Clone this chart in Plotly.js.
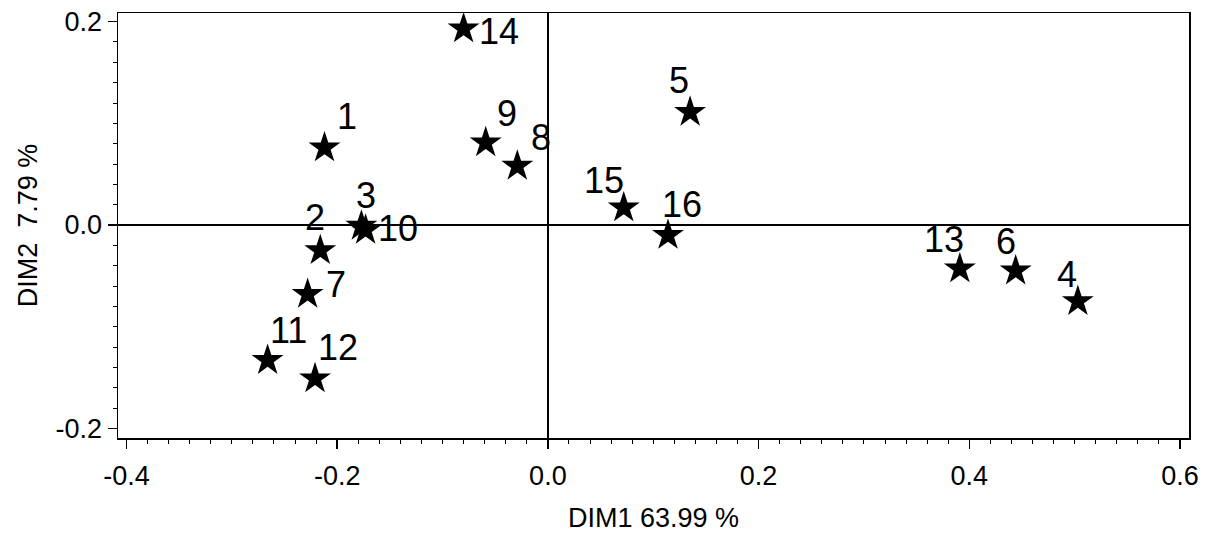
<!DOCTYPE html>
<html>
<head>
<meta charset="utf-8">
<script src="https://cdn.plot.ly/plotly-3.0.1.min.js"></script>
<style>
  html, body { margin: 0; padding: 0; background: #ffffff; }
  #chart { width: 1208px; height: 540px; }
</style>
</head>
<body>
<div id="chart"></div>
<script>
// ---- Data ----
const pointIds = ["1","2","3","4","5","6","7","8","9","10","11","12","13","14","15","16"];
const dim1 = [-0.212, -0.216, -0.177, 0.503, 0.135, 0.444, -0.228, -0.029, -0.059, -0.173, -0.266, -0.221, 0.391, -0.080, 0.072, 0.114];
const dim2 = [0.076, -0.025, -0.001, -0.075, 0.111, -0.045, -0.068, 0.058, 0.081, -0.005, -0.133, -0.151, -0.043, 0.193, 0.017, -0.010];

const xTickVals = [-0.4, -0.2, 0.0, 0.2, 0.4, 0.6];
const xTickText = ["-0.4", "-0.2", "0.0", "0.2", "0.4", "0.6"];
const yTickVals = [-0.2, 0.0, 0.2];
const yTickText = ["-0.2", "0.0", "0.2"];

const xTitle = "DIM1 63.99 %";
const yTitle = "DIM2  7.79 %";

// ---- Label placement (style only: pixel offsets of each id label from its star) ----
const labelOffsets = {
  "1": [22, -31], "2": [-5, -33], "3": [5, -31], "4": [-11, -27],
  "5": [-11, -32], "6": [-10, -29], "7": [28, -10], "8": [24, -29],
  "9": [21, -29], "10": [32, -2], "11": [21, -30], "12": [23, -31],
  "13": [-16, -29], "14": [35, 3], "15": [-20, -27], "16": [14, -31]
};

const fontFamily = "Liberation Sans, Arial, Helvetica, sans-serif";

const trace = {
  type: "scatter",
  mode: "markers",
  x: dim1,
  y: dim2,
  text: pointIds,
  marker: { symbol: "star", size: 24, color: "#000000", line: { width: 0 } },
  hoverinfo: "text+x+y",
  showlegend: false,
  cliponaxis: false
};

const annotations = pointIds.map((id, i) => ({
  x: dim1[i],
  y: dim2[i],
  xref: "x",
  yref: "y",
  text: id,
  showarrow: true,
  arrowcolor: "rgba(0,0,0,0)",
  arrowwidth: 0.1,
  ax: labelOffsets[id][0],
  ay: labelOffsets[id][1],
  font: { family: fontFamily, size: 36, color: "#000000" }
}));

const axisCommon = {
  showgrid: false,
  showline: true,
  mirror: true,
  linecolor: "#000000",
  linewidth: 1.5,
  zeroline: true,
  zerolinecolor: "#000000",
  zerolinewidth: 1.5,
  ticks: "outside",
  ticklen: 9,
  tickwidth: 1.3,
  tickcolor: "#000000",
  tickfont: { family: fontFamily, size: 27, color: "#000000" },
  tickmode: "array",
  minor: { dtick: 0.02, tick0: 0, ticks: "outside", ticklen: 4, tickwidth: 1, tickcolor: "#000000", showgrid: false }
};

const layout = {
  width: 1208,
  height: 540,
  paper_bgcolor: "#ffffff",
  plot_bgcolor: "#ffffff",
  margin: { l: 118, r: 19, t: 13, b: 102 },
  font: { family: fontFamily, color: "#000000" },
  xaxis: Object.assign({}, axisCommon, {
    range: [-0.408, 0.6085],
    tickvals: xTickVals,
    ticktext: xTickText,
    ticklabelstandoff: 4,
    title: { text: xTitle, font: { family: fontFamily, size: 27, color: "#000000" }, standoff: 18 }
  }),
  yaxis: Object.assign({}, axisCommon, {
    range: [-0.2094, 0.2085],
    tickvals: yTickVals,
    ticktext: yTickText,
    title: { text: yTitle, font: { family: fontFamily, size: 27, color: "#000000" }, standoff: 10 }
  }),
  annotations: annotations,
  showlegend: false
};

Plotly.newPlot("chart", [trace], layout, { displayModeBar: false, staticPlot: true });
</script>
</body>
</html>
